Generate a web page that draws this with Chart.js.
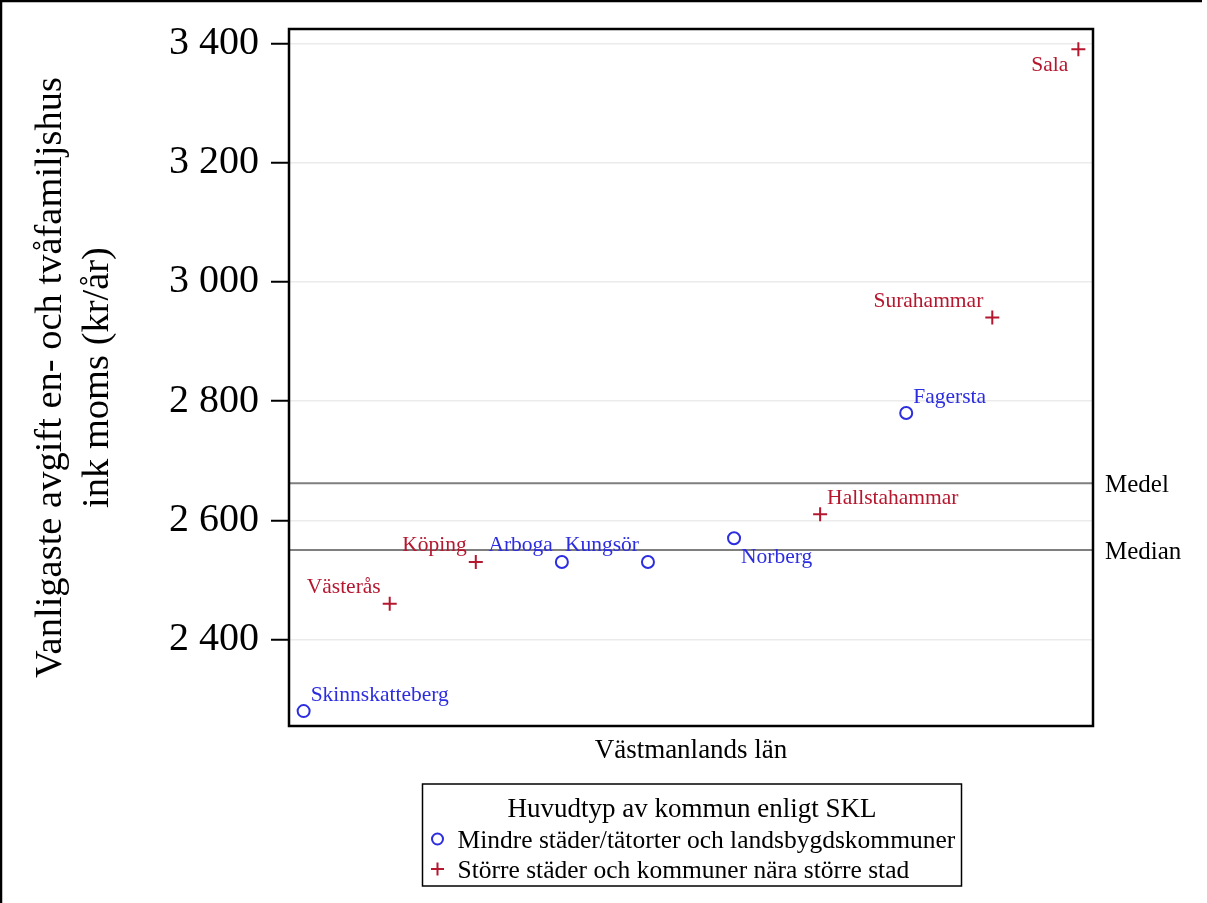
<!DOCTYPE html>
<html>
<head>
<meta charset="utf-8">
<script src="https://cdn.jsdelivr.net/npm/chart.js@4/dist/chart.umd.min.js"></script>
<style>
  html, body { margin: 0; padding: 0; background: #fff; }
  #wrap { width: 1207px; height: 903px; position: relative; }
</style>
</head>
<body>
<div id="wrap"><canvas id="c" width="1207" height="903"></canvas></div>
<script>
// ---- Data ----
const municipalities = ['Skinnskatteberg','Västerås','Köping','Arboga','Kungsör','Norberg','Hallstahammar','Fagersta','Surahammar','Sala'];
const fees = [2280, 2460, 2530, 2530, 2530, 2570, 2610, 2780, 2940, 3390];
const types = ['small','large','large','small','small','small','large','small','large','large'];
const labelPos = ['ne','nw','nw','nw','nw','se','ne','ne','nw','sw'];
const yTickValues = [2400, 2600, 2800, 3000, 3200, 3400];
const typeNames = {
  small: 'Mindre städer/tätorter och landsbygdskommuner',
  large: 'Större städer och kommuner nära större stad'
};
const legendTitle = 'Huvudtyp av kommun enligt SKL';
const xTitle = 'Västmanlands län';
const yTitle = ['Vanligaste avgift en- och tvåfamiljshus', 'ink moms (kr/år)'];
const refNames = ['Medel', 'Median'];

// statistics from the data
const meanValue = fees.reduce((a, b) => a + b, 0) / fees.length;
const sorted = [...fees].sort((a, b) => a - b);
const medianValue = (sorted[sorted.length / 2 - 1] + sorted[sorted.length / 2]) / 2;

const BLUE = '#2c2ce0';
const RED = '#b5172f';
const SERIF = '"Liberation Serif", "Times New Roman", serif';
const X_MIN = 0.83, X_MAX = 10.17;

function pts(type) {
  const out = [];
  fees.forEach((v, i) => { if (types[i] === type) out.push({ x: i + 1, y: v, name: municipalities[i], pos: labelPos[i] }); });
  return out;
}

const labelOffsets = {
  ne: { dx: 7, dy: -10, align: 'left' },
  nw: { dx: -9, dy: -11, align: 'right' },
  se: { dx: 7, dy: 25, align: 'left' },
  sw: { dx: -10, dy: 22, align: 'right' }
};

const decorPlugin = {
  id: 'decor',
  beforeDraw(chart) {
    const ctx = chart.ctx;
    ctx.save();
    ctx.fillStyle = '#fff';
    ctx.fillRect(0, 0, chart.width, chart.height);
    ctx.restore();
  },
  afterDatasetsDraw(chart) {
    const ctx = chart.ctx;
    const xs = chart.scales.x, ys = chart.scales.y;
    const ca = chart.chartArea;
    ctx.save();
    // point labels
    ctx.font = '21.5px ' + SERIF;
    ctx.textBaseline = 'alphabetic';
    chart.data.datasets.forEach(ds => {
      if (!ds.isPoints) return;
      ctx.fillStyle = ds.borderColor;
      ds.data.forEach(p => {
        const o = labelOffsets[p.pos];
        ctx.textAlign = o.align;
        ctx.fillText(p.name, xs.getPixelForValue(p.x) + o.dx, ys.getPixelForValue(p.y) + o.dy);
      });
    });
    // reference line labels
    ctx.fillStyle = '#000';
    ctx.font = '25px ' + SERIF;
    ctx.textAlign = 'left';
    ctx.textBaseline = 'middle';
    ctx.fillText(refNames[0], ca.right + 12, ys.getPixelForValue(meanValue) + 2);
    ctx.fillText(refNames[1], ca.right + 12, ys.getPixelForValue(medianValue) + 2);
    // plot frame
    ctx.strokeStyle = '#000';
    ctx.lineWidth = 2.5;
    ctx.strokeRect(ca.left, ca.top, ca.right - ca.left, ca.bottom - ca.top);
    // outer frame (top and left)
    ctx.lineWidth = 2.5;
    ctx.beginPath();
    ctx.moveTo(1, chart.height); ctx.lineTo(1, 1); ctx.lineTo(chart.width - 5, 1);
    ctx.stroke();
    // legend box
    const cx = (ca.left + ca.right) / 2;
    const bw = 539, bx = cx - bw / 2 + 1, by = 784, bh = 102;
    ctx.lineWidth = 1.5;
    ctx.strokeRect(bx, by, bw, bh);
    ctx.fillStyle = '#000';
    ctx.font = '27px ' + SERIF;
    ctx.textAlign = 'center';
    ctx.textBaseline = 'alphabetic';
    ctx.fillText(legendTitle, cx + 1, 817);
    const rows = [
      { ds: chart.data.datasets[0], y: 839 },
      { ds: chart.data.datasets[1], y: 869 }
    ];
    ctx.font = '25.5px ' + SERIF;
    ctx.textAlign = 'left';
    ctx.textBaseline = 'middle';
    rows.forEach(r => {
      const mx = bx + 15;
      ctx.strokeStyle = r.ds.borderColor;
      ctx.lineWidth = 2;
      ctx.beginPath();
      if (r.ds.pointStyle === 'circle') {
        ctx.arc(mx, r.y, 5.5, 0, Math.PI * 2);
      } else {
        ctx.moveTo(mx - 6.5, r.y); ctx.lineTo(mx + 6.5, r.y);
        ctx.moveTo(mx, r.y - 6.5); ctx.lineTo(mx, r.y + 6.5);
      }
      ctx.stroke();
      ctx.fillStyle = '#000';
      ctx.fillText(r.ds.label, bx + 35, r.y + 2);
    });
    ctx.restore();
  }
};

new Chart(document.getElementById('c'), {
  type: 'scatter',
  data: {
    datasets: [
      {
        label: typeNames.small, isPoints: true,
        data: pts('small'),
        pointStyle: 'circle', pointRadius: 6, pointHoverRadius: 6,
        borderColor: BLUE, backgroundColor: 'rgba(0,0,0,0)', borderWidth: 2, pointBorderWidth: 2,
        order: 1
      },
      {
        label: typeNames.large, isPoints: true,
        data: pts('large'),
        pointStyle: 'cross', pointRadius: 7, pointHoverRadius: 7,
        borderColor: RED, backgroundColor: RED, borderWidth: 2, pointBorderWidth: 2,
        order: 1
      },
      {
        type: 'line', label: refNames[0],
        data: [{ x: X_MIN, y: meanValue }, { x: X_MAX, y: meanValue }],
        borderColor: '#7f7f7f', borderWidth: 2, pointRadius: 0, order: 3
      },
      {
        type: 'line', label: refNames[1],
        data: [{ x: X_MIN, y: medianValue }, { x: X_MAX, y: medianValue }],
        borderColor: '#7f7f7f', borderWidth: 2, pointRadius: 0, order: 3
      }
    ]
  },
  options: {
    responsive: false,
    animation: false,
    events: [],
    layout: { padding: { top: 29, right: 114, left: 0, bottom: 0 } },
    plugins: {
      legend: { display: false },
      tooltip: { enabled: false }
    },
    scales: {
      x: {
        type: 'linear', min: X_MIN, max: X_MAX,
        ticks: { display: false },
        grid: { display: false },
        border: { display: false },
        title: {
          display: true, text: xTitle, color: '#000',
          font: { family: SERIF, size: 27 }, padding: { top: 0, bottom: 136 }
        },
        afterFit(scale) { scale.height = 177; scale.paddingLeft = 0; scale.paddingRight = 0; }
      },
      y: {
        type: 'linear', min: 2255, max: 3424,
        afterBuildTicks(scale) { scale.ticks = yTickValues.map(v => ({ value: v })); },
        ticks: {
          color: '#000', padding: 12,
          font: { family: SERIF, size: 40 },
          callback: v => String(v).replace(/\B(?=(\d{3})+(?!\d))/g, ' ')
        },
        grid: {
          color: '#ebebeb', lineWidth: 1.5,
          tickColor: '#000', tickWidth: 2, tickLength: 18
        },
        border: { display: false },
        title: {
          display: true, text: yTitle, color: '#000',
          font: { family: SERIF, size: 38.5, lineHeight: 1.22 }, padding: { top: 27, bottom: 0 }
        },
        afterFit(scale) { scale.width = 289; scale.paddingTop = 0; scale.paddingBottom = 0; }
      }
    }
  },
  plugins: [decorPlugin]
});
</script>
</body>
</html>
